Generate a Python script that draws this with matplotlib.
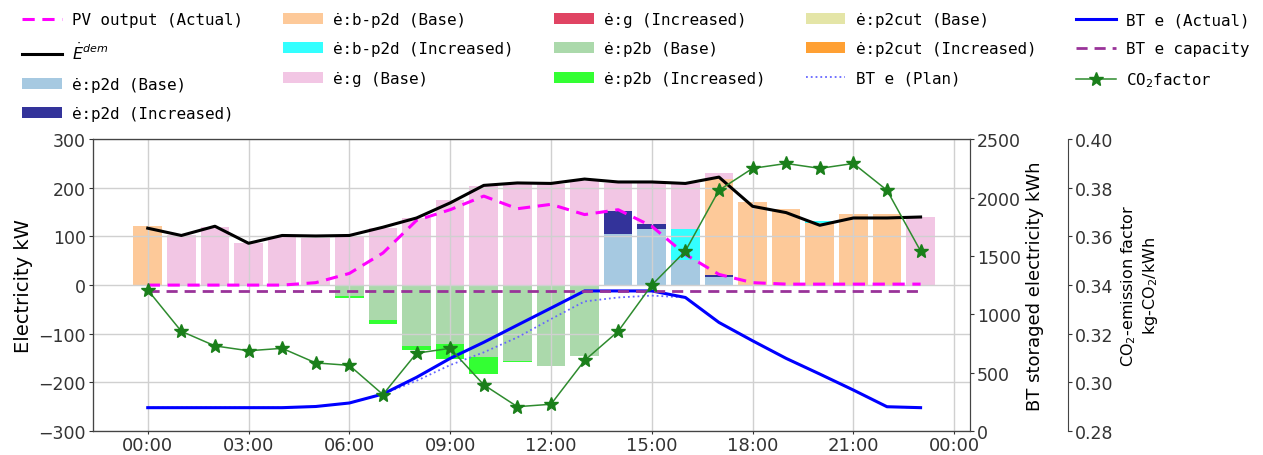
import numpy as np
import matplotlib
matplotlib.use("Agg")
import matplotlib.pyplot as plt
from matplotlib.ticker import FuncFormatter, MultipleLocator

# =========================
# DATA (hourly, 00:00 - 23:00)
# =========================
hours = list(range(24))

pv_actual = [0, 0, 0, 0, 0, 5, 24, 66, 133, 155, 183, 157,
             166, 145, 155, 121, 63, 22, 5, 2, 2, 2, 2, 2]
e_dem = [117, 102, 121, 86, 102, 101, 102, 119, 138, 169, 205, 210,
         209, 218, 212, 212, 209, 222, 162, 149, 123, 138, 138, 140]

p2d_base = [0, 0, 0, 0, 0, 0, 0, 0, 0, 0, 0, 0,
            0, 0, 106, 116, 52, 17, 0, 0, 0, 0, 0, 0]
p2d_inc = [0, 0, 0, 0, 0, 0, 0, 0, 0, 0, 0, 0,
           0, 0, 47, 10, 0, 3, 0, 0, 0, 0, 0, 0]
b_p2d_base = [122, 0, 0, 0, 0, 0, 0, 0, 0, 0, 0, 0,
              0, 0, 0, 0, 0, 198, 170, 157, 128, 147, 146, 0]
b_p2d_inc = [0, 0, 0, 0, 0, 0, 0, 0, 0, 0, 0, 0,
             0, 0, 0, 0, 64, 0, 0, 0, 3, 0, 0, 0]
g_base = [0, 102, 120, 86, 100, 97, 99, 118, 138, 174, 203, 210,
          207, 214, 57, 84, 94, 13, 0, 0, 0, 0, 0, 140]
g_inc = [0] * 24
p2cut_base = [0] * 24
p2cut_inc = [0] * 24
p2b_base = [0, 0, 0, 0, 0, 0, -23, -72, -125, -122, -147, -156,
            -166, -146, 0, 0, 0, 0, 0, 0, 0, 0, 0, 0]
p2b_inc = [0, 0, 0, 0, 0, 0, -3, -9, -9, -30, -36, -3,
           0, 0, 0, 0, 0, 0, 0, 0, 0, 0, 0, 0]

bt_actual = [200, 200, 200, 200, 200, 210, 240, 317, 460, 622, 760, 907,
             1053, 1200, 1200, 1200, 1144, 930, 773, 622, 488, 351, 208, 200]
bt_plan = [200, 200, 200, 200, 200, 210, 240, 317, 430, 565, 674, 802,
           959, 1110, 1144, 1160, 1144, 930, 773, 622, 488, 351, 208, 200]
bt_capacity = [1200] * 24

co2_factor = [0.338, 0.321, 0.315, 0.313, 0.314, 0.308, 0.307, 0.295,
              0.312, 0.314, 0.299, 0.290, 0.291, 0.309, 0.321, 0.340,
              0.354, 0.379, 0.388, 0.390, 0.388, 0.390, 0.379, 0.354]

# =========================
# PLOT
# =========================
TICK_FS = 12.5
BAR_W = 0.85

fig = plt.figure(figsize=(12.63, 4.56), dpi=100)
ax1 = fig.add_axes([0.0736, 0.0526, 0.6944, 0.640])
ax2 = ax1.twinx()
ax3 = ax1.twinx()
ax3.spines["right"].set_position(("axes", 1.112))

x = np.array(hours, dtype=float)

# positive stack
pos_series = [
    (p2d_base, "#a6c9e1", "ė:p2d (Base)"),
    (p2d_inc, "#33339a", "ė:p2d (Increased)"),
    (b_p2d_base, "#fdc999", "ė:b-p2d (Base)"),
    (b_p2d_inc, "#33ffff", "ė:b-p2d (Increased)"),
    (g_base, "#f2c6e4", "ė:g (Base)"),
    (g_inc, "#e04463", "ė:g (Increased)"),
]
neg_series = [
    (p2b_base, "#abd9ab", "ė:p2b (Base)"),
    (p2b_inc, "#33ff33", "ė:p2b (Increased)"),
]
cut_series = [
    (p2cut_base, "#e4e5a7", "ė:p2cut (Base)"),
    (p2cut_inc, "#ffa033", "ė:p2cut (Increased)"),
]

handles = {}
bottom = np.zeros(24)
for vals, col, lab in pos_series:
    v = np.array(vals, dtype=float)
    handles[lab] = ax1.bar(x, v, BAR_W, bottom=bottom, color=col, label=lab)
    bottom += v
nbottom = np.zeros(24)
for vals, col, lab in neg_series:
    v = np.array(vals, dtype=float)
    handles[lab] = ax1.bar(x, v, BAR_W, bottom=nbottom, color=col, label=lab)
    nbottom += v
for vals, col, lab in cut_series:
    v = np.array(vals, dtype=float)
    handles[lab] = ax1.bar(x, v, BAR_W, bottom=bottom, color=col, label=lab)
    bottom += v

handles["pv"], = ax1.plot(x, pv_actual, color="#ff00ff", ls="--", lw=2.2,
                          dashes=(4, 2.5), label="PV output (Actual)")
handles["dem"], = ax1.plot(x, e_dem, color="black", lw=2.2,
                           label=r"$\dot{E}^{dem}$")

handles["plan"], = ax2.plot(x, bt_plan, color="#6666ff", ls=":", lw=1.3,
                            label="BT e (Plan)")
handles["actual"], = ax2.plot(x, bt_actual, color="#0000ff", lw=2.2,
                              label="BT e (Actual)")
handles["cap"], = ax2.plot(x, bt_capacity, color="#993399", ls="--", lw=2,
                           dashes=(4, 2.5), label="BT e capacity")

handles["co2"], = ax3.plot(x, co2_factor, color="#2e8b2e", lw=1.1,
                           marker="*", ms=10, mfc="#1a7f1a", mec="#1a7f1a",
                           label="CO$_2$factor")

# axes
ax1.set_xlim(-1.63, 24.47)
ax1.set_ylim(-300, 300)
ax2.set_ylim(0, 2500)
ax3.set_ylim(0.28, 0.40)
ax1.xaxis.set_major_locator(MultipleLocator(3))
ax1.xaxis.set_major_formatter(FuncFormatter(lambda v, p: f"{int(round(v)) % 24:02d}:00"))
ax1.yaxis.set_major_locator(MultipleLocator(100))
ax2.yaxis.set_major_locator(MultipleLocator(500))
ax3.yaxis.set_major_locator(MultipleLocator(0.02))
ax3.yaxis.set_major_formatter(FuncFormatter(lambda v, p: f"{v:.2f}"))

ax1.grid(True, color="#d0d0d0", lw=1)
for ax in (ax1, ax2, ax3):
    ax.tick_params(labelsize=TICK_FS, colors="#333333", length=3, pad=2)
    for s in ax.spines.values():
        s.set_color("#444444")
ax1.tick_params(axis="x", labelsize=13, length=2, pad=1.5)

ax1.set_ylabel("Electricity kW", fontsize=14)
ax2.set_ylabel("BT storaged electricity kWh", fontsize=13)
ax3.set_ylabel("CO$_2$-emission factor\nkg-CO$_2$/kWh", fontsize=11.5)

order = ["pv", "dem", "ė:p2d (Base)", "ė:p2d (Increased)",
         "ė:b-p2d (Base)", "ė:b-p2d (Increased)", "ė:g (Base)",
         "ė:g (Increased)", "ė:p2b (Base)", "ė:p2b (Increased)",
         "ė:p2cut (Base)", "ė:p2cut (Increased)", "plan",
         "actual", "cap", "co2"]
hs = [handles[k] for k in order]
labels = [h.get_label() for h in hs]
fig.legend(hs, labels, ncol=5, loc="upper left", bbox_to_anchor=(0.0124, 0.985),
           frameon=False, borderaxespad=0, handlelength=2.5, handletextpad=0.65,
           columnspacing=2.55, labelspacing=0.9,
           prop={"family": ["DejaVu Sans Mono"], "size": 11.4})

fig.savefig("out.png", dpi=100)
